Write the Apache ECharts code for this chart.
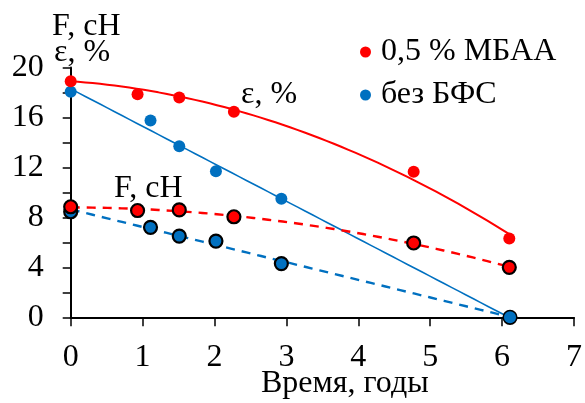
<!DOCTYPE html>
<html>
<head>
<meta charset="utf-8">
<script src="https://cdn.jsdelivr.net/npm/echarts@6/dist/echarts.min.js"></script>
<style>
  html, body { margin: 0; padding: 0; background: #fff; }
  #chart { width: 585px; height: 403px; }
</style>
</head>
<body>
<div id="chart"></div>
<script>
// Time, years
const mbaaTime = [0, 0.93, 1.51, 2.27, 4.77, 6.1];
const plainTime = [0, 1.11, 1.51, 2.02, 2.93, 6.11];

// Elongation ε, %
const mbaaEps = [18.9, 17.85, 17.6, 16.45, 11.65, 6.3];
const plainEps = [18.05, 15.75, 13.7, 11.7, 9.5, 0];

// Force F, cH
const mbaaForce = [8.85, 8.55, 8.6, 8.05, 5.95, 4.0];
const plainForce = [8.45, 7.2, 6.5, 6.1, 4.3, 0];

const seriesNames = ['0,5 % МБАА', 'без БФС'];
const xTicks = [0, 1, 2, 3, 4, 5, 6, 7];
const yLabelTicks = [0, 4, 8, 12, 16, 20];

const RED = '#ff0000';
const BLUE = '#0070c0';
const FONT = 'Liberation Serif';

// Least-squares polynomial trend; with `anchored` the curve starts at the first measurement
function polyFit(xs, ys, deg, anchored) {
  const y0 = anchored ? ys[0] : 0;
  const powers = [];
  for (let p = anchored ? 1 : 0; p <= deg; p++) powers.push(p);
  const n = powers.length;
  const A = Array.from({ length: n }, () => new Array(n + 1).fill(0));
  for (let k = 0; k < xs.length; k++) {
    for (let i = 0; i < n; i++) {
      for (let j = 0; j < n; j++) A[i][j] += Math.pow(xs[k], powers[i] + powers[j]);
      A[i][n] += (ys[k] - y0) * Math.pow(xs[k], powers[i]);
    }
  }
  for (let c = 0; c < n; c++) {
    let p = c;
    for (let r = c + 1; r < n; r++) if (Math.abs(A[r][c]) > Math.abs(A[p][c])) p = r;
    [A[c], A[p]] = [A[p], A[c]];
    for (let r = 0; r < n; r++) {
      if (r === c) continue;
      const f = A[r][c] / A[c][c];
      for (let j = c; j <= n; j++) A[r][j] -= f * A[c][j];
    }
  }
  const coef = new Array(deg + 1).fill(0);
  coef[0] = y0;
  powers.forEach((p, i) => { coef[p] += A[i][n] / A[i][i]; });
  return coef;
}
function trend(xs, ys, deg, anchored) {
  const coef = polyFit(xs, ys, deg, anchored);
  const x0 = Math.min(...xs), x1 = Math.max(...xs);
  const pts = [];
  const steps = 60;
  for (let s = 0; s <= steps; s++) {
    const x = x0 + (x1 - x0) * s / steps;
    let y = 0;
    coef.forEach((c, i) => { y += c * Math.pow(x, i); });
    pts.push([x, y]);
  }
  return pts;
}
const pairs = (xs, ys) => xs.map((x, i) => [x, ys[i]]);

function trendSeries(data, color, width, dashed) {
  return {
    type: 'line', data, showSymbol: false, silent: true, z: 2,
    lineStyle: { color, width, type: dashed ? [9, 7] : 'solid' },
    animation: false
  };
}
function pointSeries(name, data, color, outlined) {
  return {
    name, type: 'scatter', data, z: outlined ? 4 : 5,
    symbol: 'circle', symbolSize: outlined ? 13 : 12,
    itemStyle: outlined
      ? { color, borderColor: '#000', borderWidth: 2.2, opacity: 1 }
      : { color, opacity: 1 },
    animation: false
  };
}
const txt = (text, left, top) => ({
  type: 'text', left, top,
  style: { text, fill: '#000', fontFamily: FONT, fontSize: 32 }
});

const chart = echarts.init(document.getElementById('chart'), null, { renderer: 'canvas' });
chart.setOption({
  backgroundColor: '#fff',
  animation: false,
  textStyle: { fontFamily: FONT },
  grid: { left: 70.7, right: 8.3, top: 67.5, bottom: 85.7, containLabel: false },
  xAxis: {
    type: 'value', min: 0, max: 7, interval: 1,
    axisLine: { show: true, onZero: false, lineStyle: { color: '#000', width: 2 } },
    axisTick: { show: true, length: 9, lineStyle: { color: '#000', width: 1.5 } },
    axisLabel: {
      color: '#000', fontFamily: FONT, fontSize: 32, margin: 24,
      formatter: v => (xTicks.includes(v) ? String(v) : '')
    },
    splitLine: { show: false }
  },
  yAxis: {
    type: 'value', min: 0, max: 20, interval: 2,
    axisLine: { show: true, lineStyle: { color: '#000', width: 2 } },
    axisTick: { show: true, length: 8, lineStyle: { color: '#000', width: 1.5 } },
    axisLabel: {
      color: '#000', fontFamily: FONT, fontSize: 32, margin: 27,
      formatter: v => (yLabelTicks.includes(v) ? String(v) : '')
    },
    splitLine: { show: false }
  },
  legend: {
    data: [
      { name: seriesNames[0], icon: 'circle', itemStyle: { color: RED, borderWidth: 0 } },
      { name: seriesNames[1], icon: 'circle', itemStyle: { color: BLUE, borderWidth: 0 } }
    ],
    orient: 'vertical', left: 360, top: 36, padding: 0,
    itemWidth: 11, itemHeight: 11, itemGap: 11,
    selectedMode: false,
    textStyle: { color: '#000', fontFamily: FONT, fontSize: 32, padding: [0, 0, 0, 5] }
  },
  graphic: [
    txt('F, cH', 52, 10.5),
    txt('ε, %', 54, 37),
    txt('ε, %', 241, 79),
    txt('F, cH', 114, 173),
    txt('Время, годы', 261, 367.5)
  ],
  series: [
    trendSeries(trend(mbaaTime, mbaaEps, 2, true), RED, 2),
    trendSeries(trend(plainTime, plainEps, 1), BLUE, 1.6),
    trendSeries(trend(mbaaTime, mbaaForce, 2), RED, 2.4, true),
    trendSeries(trend(plainTime, plainForce, 1), BLUE, 2.4, true),
    pointSeries(seriesNames[1], pairs(plainTime, plainForce), BLUE, true),
    pointSeries(seriesNames[0], pairs(mbaaTime, mbaaForce), RED, true),
    pointSeries(seriesNames[1], pairs(plainTime, plainEps), BLUE, false),
    pointSeries(seriesNames[0], pairs(mbaaTime, mbaaEps), RED, false)
  ]
});
</script>
</body>
</html>
